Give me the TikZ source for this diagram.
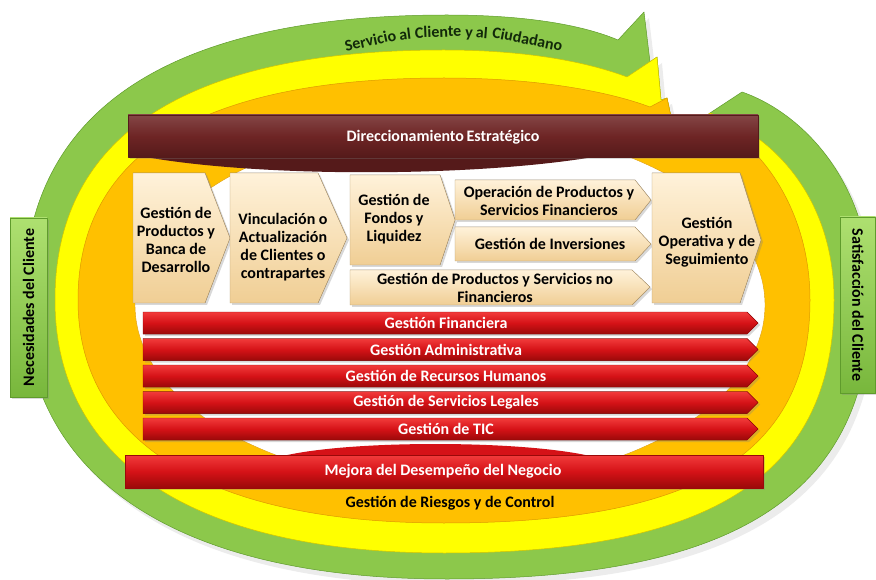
\documentclass[tikz,border=0pt]{standalone}
\usepackage{fontspec}
\setmainfont{Carlito}
\usepackage{tikz}
\usetikzlibrary{shadows}

\definecolor{grn}{HTML}{8CC84B}
\definecolor{grndk}{HTML}{5F9B2C}
\definecolor{ylw}{HTML}{FFFF00}
\definecolor{ylwdk}{HTML}{D4C400}
\definecolor{org}{HTML}{FFC000}
\definecolor{orgdk}{HTML}{DE9A00}
\definecolor{brn}{HTML}{6E2525}
\definecolor{brndk}{HTML}{551A1A}
\definecolor{tanhi}{HTML}{FFF2DA}
\definecolor{tanlo}{HTML}{F0CE94}
\definecolor{redhi}{HTML}{F23B3B}
\definecolor{redmd}{HTML}{D51217}
\definecolor{redlo}{HTML}{9A0909}
\definecolor{sidehi}{HTML}{AEE070}
\definecolor{sidelo}{HTML}{78B73C}
\definecolor{txtgrn}{HTML}{12290A}

\begin{document}
\begin{tikzpicture}[line cap=round,line join=round,x=1pt,y=1pt,
  lbl/.style={font=\bfseries\fontsize{16}{18}\selectfont,align=center,inner sep=0pt,text=black},
  wlbl/.style={lbl,text=white},
  arclbl/.style={lbl,text=txtgrn,anchor=base},
  shd/.style={drop shadow={shadow xshift=2pt,shadow yshift=-2pt,opacity=0.3}},
  procbox/.style={shd,top color=tanhi,bottom color=tanlo,draw=tanlo!75!black,line width=0.4pt},
  redbar/.style={shd,top color=redhi,bottom color=redlo,middle color=redmd,draw=redlo,line width=0.4pt},
  sidebox/.style={shd,top color=sidehi,bottom color=sidelo,draw=grndk,line width=0.4pt}]
\useasboundingbox (0,0) rectangle (876,-580);

\fill[grn,draw=grndk,line width=0.5pt,drop shadow={shadow xshift=5pt,shadow yshift=-6pt,opacity=0.15}]
  (742,-92) .. controls (800,-112) and (871,-180) .. (871,-297)
  .. controls (871,-492) and (740,-579) .. (447,-579)
  .. controls (176,-579) and (24,-477) .. (24,-297)
  .. controls (24,-111) and (168,-15) .. (447,-15)
  .. controls (530,-15) and (585,-26) .. (618,-40)
  -- (644,-12) -- (650,-62) -- (657,-57) -- (661,-100) -- (667,-98) -- (671,-117) -- (705,-117)
  -- (710,-113) -- cycle;
\fill[ylw,draw=ylwdk,line width=0.5pt]
  (710,-113) .. controls (775,-135) and (834,-200) .. (834,-300)
  .. controls (834,-475) and (713,-553) .. (444,-553)
  .. controls (195,-553) and (55,-462) .. (55,-300)
  .. controls (55,-135) and (187,-50) .. (444,-50)
  .. controls (530,-50) and (590,-63) .. (627,-77)
  -- (657,-57) -- (661,-100) -- (667,-98) -- (671,-117) -- (705,-117) -- cycle;
\fill[org,draw=orgdk,line width=0.5pt]
  (705,-118) .. controls (760,-140) and (810,-210) .. (810,-300)
  .. controls (810,-454) and (697,-523) .. (444,-523)
  .. controls (210,-523) and (78,-443) .. (78,-300)
  .. controls (78,-153) and (202,-78) .. (444,-78)
  .. controls (540,-78) and (610,-92) .. (650,-107)
  -- (667,-98) -- (671,-117) -- cycle;
\fill[white,draw=orgdk,line width=0.4pt] (450,-305) ellipse [x radius=315,y radius=180];

\foreach \w/\x/\y/\a [count=\i] in {Servicio/371.5/45.8/12.3,al/405.7/39.9/7.2,Cliente/438.3/37.3/2.2,
  y/469/37.3/-2.5,al/481.4/38.2/-4.6,Ciudadano/526.4/44.4/-11.3}
  \node[arclbl,rotate=\a] (srv\i) at (\x,-\y) {\w};
\node[lbl] (ries) at (450,-503) {Gestión de Riesgos y de Control};

\fill[brndk] (135,-155) .. controls (250,-178) and (480,-178) .. (605,-155) -- cycle;
\filldraw[shd,top color=brn!85!white,bottom color=brndk,middle color=brn,draw=brndk,line width=0.4pt]
  (128,-115) rectangle (758,-157);
\node[wlbl] (dir) at (443,-137) {Direccionamiento\,Estratégico};

\filldraw[procbox] (133,-173) -- (205,-173) -- (230,-238) -- (205,-303) -- (133,-303) -- cycle;
\filldraw[procbox] (230,-173) -- (318,-173) -- (347,-238) -- (318,-303) -- (230,-303) -- cycle;
\filldraw[procbox] (350,-175) -- (440,-175) -- (455,-220) -- (440,-265) -- (350,-265) -- cycle;
\filldraw[procbox] (455,-180) -- (635,-180) -- (651,-200) -- (635,-220) -- (455,-220) -- cycle;
\filldraw[procbox] (455,-227) -- (635,-227) -- (651,-244) -- (635,-261) -- (455,-261) -- cycle;
\filldraw[procbox] (350,-270) -- (632,-270) -- (650,-287) -- (632,-305) -- (350,-305) -- cycle;
\filldraw[procbox] (652,-173) -- (740,-173) -- (761,-240) -- (740,-303) -- (652,-303) -- cycle;
\node[lbl] (pbd) at (176,-240) {Gestión de\\Productos y\\Banca de\\Desarrollo};
\node[lbl] (vac) at (283,-247) {Vinculación o\\Actualización\\de Clientes o\\contrapartes};
\node[lbl] (gfl) at (394,-219) {Gestión de\\Fondos y\\Liquidez};
\node[lbl] (opf) at (549,-201) {Operación de Productos y\\Servicios Financieros};
\node[lbl] (ginv) at (550,-244) {Gestión de Inversiones};
\node[lbl] (gpnf) at (495,-288) {Gestión de Productos y Servicios no\\Financieros};
\node[lbl] (gos) at (707,-242) {Gestión\\Operativa y de\\Seguimiento};

\foreach \t/\nm/\txt in {312/gfin/Gestión Financiera,338.5/gadm/Gestión Administrativa,
  365/grh/Gestión de Recursos Humanos,391.5/gsl/Gestión de Servicios Legales,418/gtic/Gestión de TIC}{
  \pgfmathsetmacro{\tm}{\t+11}
  \pgfmathsetmacro{\tb}{\t+22}
  \filldraw[redbar] (143,-\t) -- (747,-\t) -- (758,-\tm) -- (747,-\tb) -- (143,-\tb) -- cycle;
  \node[wlbl] (\nm) at (446,-\tm) {\txt};
}

\fill[redmd] (283,-456) .. controls (350,-440) and (520,-440) .. (590,-456) -- cycle;
\filldraw[redbar] (125,-455) rectangle (763,-488);
\node[wlbl] (mej) at (443,-471) {Mejora del Desempeño del Negocio};

\filldraw[sidebox] (10,-218) rectangle (47,-397);
\node[lbl,rotate=90] (nec) at (28.5,-307.5) {Necesidades del Cliente};
\filldraw[sidebox] (840,-217) rectangle (875.5,-393);
\node[lbl,rotate=-90] (sat) at (858,-305) {Satisfacción del Cliente};
\end{tikzpicture}
\end{document}
